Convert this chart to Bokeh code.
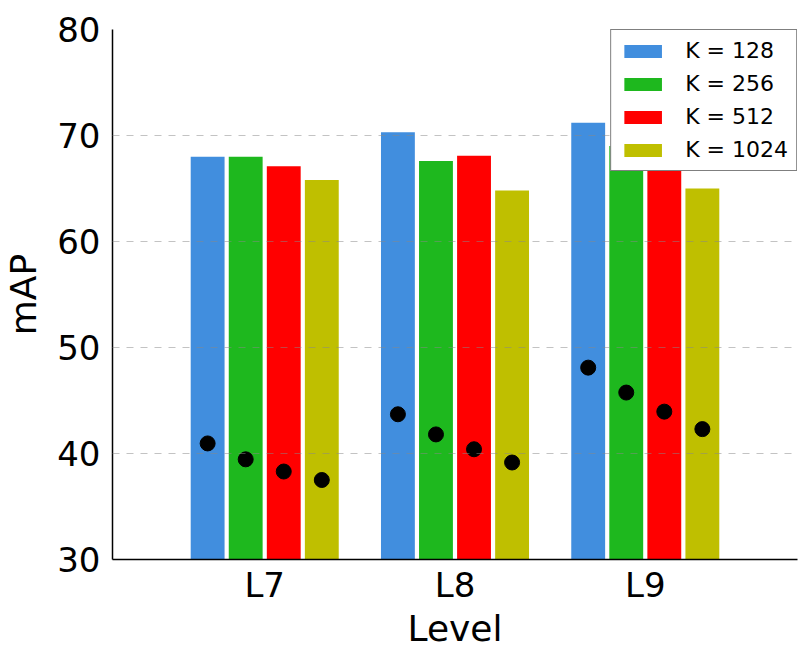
from bokeh.plotting import figure
from bokeh.models import ColumnDataSource, FixedTicker, Range1d, Legend, LegendItem
from bokeh.embed import file_html
from bokeh.resources import INLINE

levels = ["L7", "L8", "L9"]
series_names = ["K = 128", "K = 256", "K = 512", "K = 1024"]
colors = ["#418ede", "#1eb81e", "#ff0000", "#bfbf00"]
offsets = [-0.3, -0.1, 0.1, 0.3]

bar_k128 = [68.0, 70.3, 71.2]
bar_k256 = [68.0, 67.6, 69.0]
bar_k512 = [67.1, 68.1, 68.5]
bar_k1024 = [65.8, 64.8, 65.0]

dot_k128 = [40.95, 43.7, 48.1]
dot_k256 = [39.45, 41.8, 45.75]
dot_k512 = [38.3, 40.4, 43.95]
dot_k1024 = [37.5, 39.15, 42.3]

bars = [bar_k128, bar_k256, bar_k512, bar_k1024]
dots = [dot_k128, dot_k256, dot_k512, dot_k1024]
y_ticks = [30, 40, 50, 60, 70, 80]

FONT = "DejaVu Sans"

p = figure(output_backend="svg", toolbar_location=None,
           frame_width=685, frame_height=530,
           x_range=Range1d(0.2, 3.8), y_range=Range1d(30, 80),
           min_border_left=107, min_border_right=4,
           min_border_top=29, min_border_bottom=86)
p.outline_line_color = None
p.background_fill_color = "white"

base = list(range(1, len(levels) + 1))
items = []
for name, col, off, bv, dv in zip(series_names, colors, offsets, bars, dots):
    src = ColumnDataSource(dict(x=[b + off for b in base], top=bv, dot=dv))
    r = p.vbar(x="x", top="top", bottom=30, width=0.178, source=src,
               fill_color=col, line_color=None)
    p.scatter(x="x", y="dot", source=src, size=15, color="black")
    items.append(LegendItem(label=name, renderers=[r]))

legend = Legend(items=items, location="top_right", margin=0,
                label_text_font=FONT, label_text_font_size="22px",
                label_text_color="black",
                glyph_width=47, glyph_height=16, label_standoff=19,
                spacing=8, padding=8,
                border_line_color="black", border_line_width=1.5,
                background_fill_color="white", background_fill_alpha=1.0)
p.add_layout(legend)

p.xaxis.ticker = FixedTicker(ticks=base)
p.xaxis.major_label_overrides = {b: l for b, l in zip(base, levels)}
p.yaxis.ticker = FixedTicker(ticks=y_ticks)

for ax in (p.xaxis[0], p.yaxis[0]):
    ax.axis_line_color = "black"
    ax.axis_line_width = 1.5
    ax.major_tick_line_color = None
    ax.minor_tick_line_color = None
    ax.major_tick_out = 0
    ax.major_tick_in = 0
    ax.minor_tick_out = 0
    ax.major_label_text_font = FONT
    ax.major_label_text_font_size = "34px"
    ax.major_label_text_color = "black"
    ax.axis_label_text_font = FONT
    ax.axis_label_text_font_size = "36px"
    ax.axis_label_text_font_style = "normal"
    ax.axis_label_text_color = "black"

p.yaxis.major_label_standoff = 12
p.yaxis.axis_label_standoff = 10
p.xaxis.major_label_standoff = 5
p.xaxis.axis_label_standoff = 0
p.xaxis.axis_label = "Level"
p.yaxis.axis_label = "mAP"

p.xgrid.grid_line_color = None
p.ygrid.grid_line_color = "#888888"
p.ygrid.grid_line_alpha = 0.5
p.ygrid.grid_line_dash = "7 7"
p.ygrid.grid_line_width = 1
p.ygrid.level = "annotation"

open("out.html", "w").write(file_html(p, INLINE))
